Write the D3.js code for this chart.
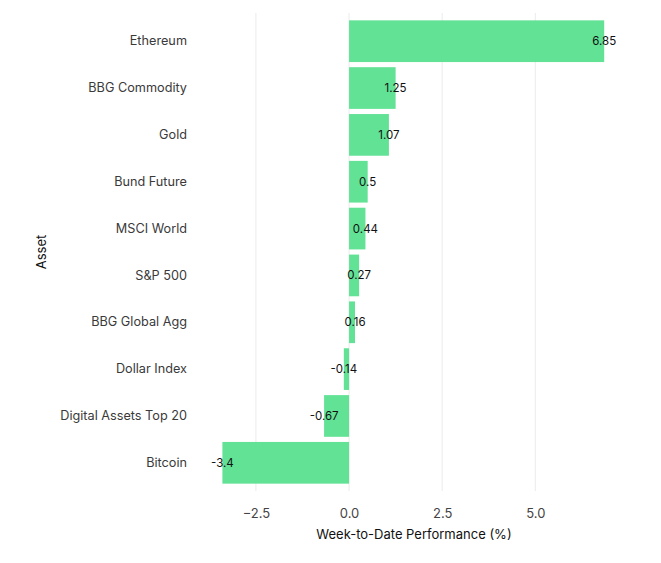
<!DOCTYPE html>
<html>
<head>
<meta charset="utf-8">
<script src="https://cdn.jsdelivr.net/npm/d3@7"></script>
<style>
  body { margin: 0; background: #fff; }
  text { font-family: Inter, "Noto Sans", sans-serif; }
</style>
</head>
<body>
<div id="chart"></div>
<script>
// data
const assets = ["Ethereum", "BBG Commodity", "Gold", "Bund Future", "MSCI World",
                "S&P 500", "BBG Global Agg", "Dollar Index", "Digital Assets Top 20", "Bitcoin"];
const perf = [6.85, 1.25, 1.07, 0.5, 0.44, 0.27, 0.16, -0.14, -0.67, -3.4];
const xTicks = [-2.5, 0, 2.5, 5];

const width = 661, height = 563;
const plot = {left: 197, right: 631, top: 13, bottom: 491};

const svg = d3.select("#chart")
              .append("svg")
              .attr("width", width)
              .attr("height", height);

const data = assets.map((a, i) => ({asset: a, value: perf[i]}));

let x = d3.scaleLinear()
          .domain([d3.min(perf), d3.max(perf)])
          .range([222.4, 604.2]);

let y = d3.scaleBand()
          .domain(assets)
          .range([plot.top, plot.bottom])
          .paddingInner(0.11)
          .paddingOuter(0.157);

// grid
svg.append("g")
   .selectAll("line")
   .data(xTicks)
   .enter()
   .append("line")
   .attr("x1", d => x(d))
   .attr("x2", d => x(d))
   .attr("y1", plot.top)
   .attr("y2", plot.bottom)
   .attr("stroke", "#ebebeb")
   .attr("stroke-width", 1);

// bars
svg.append("g")
   .selectAll("rect")
   .data(data)
   .enter()
   .append("rect")
   .attr("x", d => x(Math.min(0, d.value)))
   .attr("width", d => Math.abs(x(d.value) - x(0)))
   .attr("y", d => y(d.asset))
   .attr("height", y.bandwidth())
   .attr("fill", "#62e295");

// value labels at bar ends
svg.append("g")
   .selectAll("text")
   .data(data)
   .enter()
   .append("text")
   .attr("x", d => x(d.value))
   .attr("y", d => y(d.asset) + y.bandwidth() / 2)
   .attr("dy", "0.35em")
   .attr("text-anchor", "middle")
   .attr("font-size", 11.5)
   .attr("fill", "#111")
   .text(d => d.value);

// x axis
let xAxis = svg.append("g")
   .attr("transform", "translate(0," + plot.bottom + ")")
   .call(d3.axisBottom(x).tickValues(xTicks).tickFormat(d3.format(".1f")).tickSize(0).tickPadding(18));
xAxis.select(".domain").remove();
xAxis.selectAll("text").attr("font-size", 13).attr("fill", "#444").style("font-family", "Inter, sans-serif");

// y axis
let yAxis = svg.append("g")
   .attr("transform", "translate(" + plot.left + ",0)")
   .call(d3.axisLeft(y).tickSize(0).tickPadding(10));
yAxis.select(".domain").remove();
yAxis.selectAll("text").attr("font-size", 12.7).attr("fill", "#3a3a3a").style("font-family", "Inter, sans-serif");

// axis titles
svg.append("text")
   .attr("x", 414)
   .attr("y", 539)
   .attr("text-anchor", "middle")
   .attr("font-size", 13)
   .attr("fill", "#111")
   .text("Week-to-Date Performance (%)");

svg.append("text")
   .attr("transform", "translate(46," + ((plot.top + plot.bottom) / 2) + ") rotate(-90)")
   .attr("text-anchor", "middle")
   .attr("font-size", 13)
   .attr("fill", "#111")
   .text("Asset");
</script>
</body>
</html>
